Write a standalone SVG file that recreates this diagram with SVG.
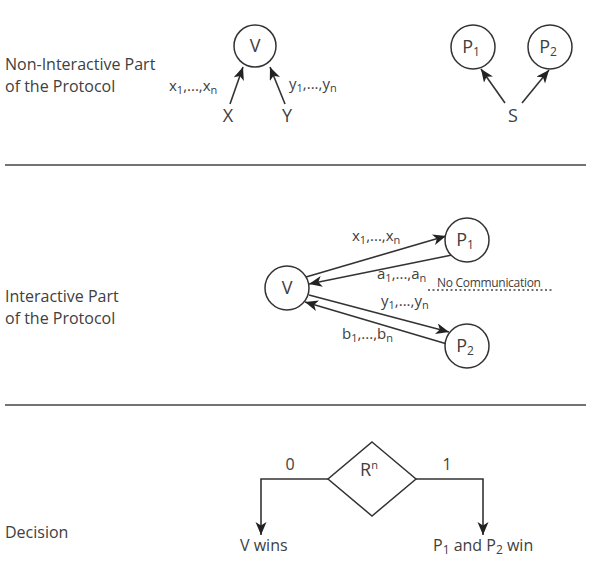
<svg xmlns="http://www.w3.org/2000/svg" width="594" height="568" viewBox="0 0 594 568">
<style>
text{font-family:"Open Sans","Liberation Sans",sans-serif;fill:#404040}
.sec{font-size:16px}
.nd{font-size:18px;text-anchor:middle}
.lb{font-size:15px}
.sb{font-size:11px}
.c{fill:#fff;stroke:#333;stroke-width:1.5}
.e{stroke:#333;stroke-width:1.6;fill:none}
.sep{stroke:#444;stroke-width:1.6}
</style>
<defs>
<marker id="ah" markerUnits="userSpaceOnUse" markerWidth="14" markerHeight="12" refX="13" refY="5.5" orient="auto">
<path d="M0,0 L13,5.5 L0,11 L3.5,5.5 Z" fill="#222"/>
</marker>
</defs>
<g id="labels">
<text class="sec" x="5" y="70">Non-Interactive Part</text>
<text class="sec" x="5" y="92">of the Protocol</text>
<text class="sec" x="5" y="302">Interactive Part</text>
<text class="sec" x="5" y="324">of the Protocol</text>
<text class="sec" x="5" y="538">Decision</text>
</g>
<line class="sep" x1="5" y1="165" x2="586" y2="165"/>
<line class="sep" x1="5" y1="405" x2="586" y2="405"/>
<g id="connectors">
<line class="e" x1="230" y1="104" x2="243" y2="67" marker-end="url(#ah)"/>
<line class="e" x1="285" y1="104" x2="270" y2="67" marker-end="url(#ah)"/>
<line class="e" x1="505" y1="103" x2="481" y2="69" marker-end="url(#ah)"/>
<line class="e" x1="522" y1="103" x2="549" y2="70" marker-end="url(#ah)"/>
<line class="e" x1="306" y1="277" x2="446" y2="236" marker-end="url(#ah)"/>
<line class="e" x1="452" y1="255" x2="309" y2="284" marker-end="url(#ah)"/>
<line class="e" x1="309" y1="295" x2="449" y2="332" marker-end="url(#ah)"/>
<line class="e" x1="447" y1="344" x2="305" y2="302" marker-end="url(#ah)"/>
<polyline class="e" points="328,479 261,479 261,535" marker-end="url(#ah)"/>
<polyline class="e" points="416,479 483,479 483,535" marker-end="url(#ah)"/>
<line x1="428" y1="290" x2="553" y2="290" stroke="#444" stroke-width="1.3" stroke-dasharray="2,2.5"/>
</g>
<g id="edge-labels">
<text class="lb" x="169" y="91">x<tspan class="sb" dy="3">1</tspan><tspan dy="-3">,...,x</tspan><tspan class="sb" dy="3">n</tspan></text>
<text class="lb" x="289" y="89">y<tspan class="sb" dy="3">1</tspan><tspan dy="-3">,...,y</tspan><tspan class="sb" dy="3">n</tspan></text>
<text class="lb" x="352" y="241">x<tspan class="sb" dy="3">1</tspan><tspan dy="-3">,...,x</tspan><tspan class="sb" dy="3">n</tspan></text>
<text class="lb" x="377" y="279">a<tspan class="sb" dy="3">1</tspan><tspan dy="-3">,...,a</tspan><tspan class="sb" dy="3">n</tspan></text>
<text x="437" y="287" font-size="12" letter-spacing="-0.3">No Communication</text>
<text class="lb" x="381" y="306">y<tspan class="sb" dy="3">1</tspan><tspan dy="-3">,...,y</tspan><tspan class="sb" dy="3">n</tspan></text>
<text class="lb" x="342" y="339">b<tspan class="sb" dy="3">1</tspan><tspan dy="-3">,...,b</tspan><tspan class="sb" dy="3">n</tspan></text>
<text class="sec" x="290" y="470" text-anchor="middle" font-size="17">0</text>
<text class="sec" x="447" y="470" text-anchor="middle" font-size="17">1</text>
</g>
<g id="node-V-top">
<circle class="c" cx="255" cy="46" r="21"/>
<text class="nd" x="255" y="52">V</text>
</g>
<g id="node-X"><text class="nd" x="228" y="122">X</text></g>
<g id="node-Y"><text class="nd" x="287" y="122">Y</text></g>
<g id="node-P1-top">
<circle class="c" cx="473" cy="47" r="22"/>
<text class="nd" x="471" y="53">P<tspan font-size="12" dy="3">1</tspan></text>
</g>
<g id="node-P2-top">
<circle class="c" cx="550" cy="47" r="22"/>
<text class="nd" x="548" y="53">P<tspan font-size="12" dy="3">2</tspan></text>
</g>
<g id="node-S"><text class="nd" x="513" y="122">S</text></g>
<g id="node-V">
<circle class="c" cx="287" cy="288" r="22"/>
<text class="nd" x="287" y="294">V</text>
</g>
<g id="node-P1">
<circle class="c" cx="467" cy="240" r="22"/>
<text class="nd" x="465" y="246">P<tspan font-size="12" dy="3">1</tspan></text>
</g>
<g id="node-P2">
<circle class="c" cx="467" cy="346" r="22"/>
<text class="nd" x="465" y="352">P<tspan font-size="12" dy="3">2</tspan></text>
</g>
<g id="node-R">
<polygon class="c" points="372,442 416,479 372,516 328,479"/>
<text class="nd" x="369" y="476" font-size="17">R<tspan font-size="11" dy="-7">n</tspan></text>
</g>
<g id="node-Vwins"><text class="sec" x="240" y="551" font-size="17">V wins</text></g>
<g id="node-Pwin"><text class="sec" x="433" y="551" font-size="17">P<tspan font-size="12" dy="3">1</tspan><tspan dy="-3"> and P</tspan><tspan font-size="12" dy="3">2</tspan><tspan dy="-3"> win</tspan></text></g>
</svg>
